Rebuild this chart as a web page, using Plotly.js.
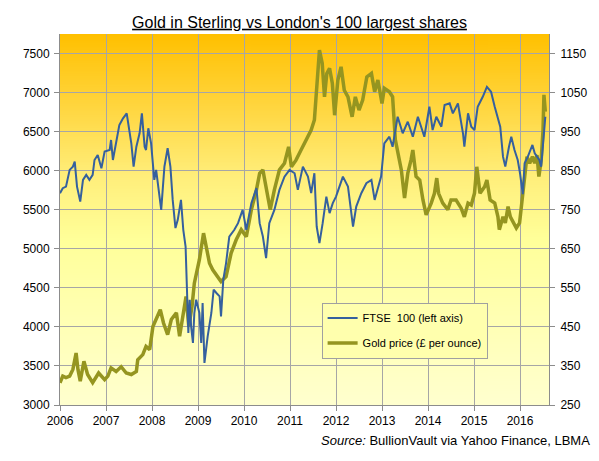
<!DOCTYPE html>
<html><head><meta charset="utf-8">
<script src="https://cdn.plot.ly/plotly-3.0.1.min.js"></script>
<style>html,body{margin:0;padding:0;background:#fff;} #chart{width:599px;height:461px;}</style>
</head><body><div id="chart"></div>
<script>
// FTSE 100 (left axis)
const ftseYears = [2006.00,2006.06,2006.13,2006.21,2006.28,2006.32,2006.37,2006.44,2006.50,2006.57,2006.64,2006.71,2006.75,2006.82,2006.90,2006.97,
2007.08,2007.11,2007.15,2007.22,2007.29,2007.37,2007.42,2007.45,2007.55,2007.60,2007.66,2007.73,2007.78,2007.84,2007.87,2007.92,2007.98,
2008.05,2008.09,2008.13,2008.20,2008.27,2008.34,2008.40,2008.45,2008.51,2008.56,2008.63,2008.68,2008.73,2008.76,2008.79,2008.82,2008.85,2008.89,2008.92,2008.96,
2009.03,2009.07,2009.10,2009.14,2009.21,2009.29,2009.34,2009.40,2009.47,2009.50,2009.55,2009.61,2009.68,2009.79,2009.87,2009.97,
2010.05,2010.16,2010.27,2010.34,2010.41,2010.48,2010.55,2010.66,2010.77,2010.88,2010.99,
2011.10,2011.17,2011.28,2011.39,2011.46,2011.53,2011.58,2011.64,2011.71,2011.79,2011.86,2011.93,
2012.00,2012.15,2012.26,2012.37,2012.44,2012.55,2012.66,2012.77,2012.84,2012.98,
2013.05,2013.16,2013.23,2013.34,2013.45,2013.56,2013.67,2013.78,2013.92,
2014.03,2014.10,2014.18,2014.29,2014.36,2014.47,2014.54,2014.65,2014.76,2014.79,2014.87,2014.94,
2015.01,2015.08,2015.19,2015.28,2015.37,2015.45,2015.52,2015.57,2015.63,2015.68,2015.76,2015.81,2015.88,2015.95,
2016.00,2016.04,2016.06,2016.10,2016.17,2016.27,2016.32,2016.37,2016.42,2016.46,2016.51,2016.55];
const ftseValues = [5712,5776,5796,6010,6052,6116,5796,5605,5882,5946,5882,5946,6137,6201,6031,6244,
6265,6393,6137,6351,6585,6670,6713,6734,6351,6052,6307,6479,6734,6307,6265,6543,6351,
5882,6010,5796,5498,6052,6287,6052,5626,5265,5371,5626,5243,5029,4390,3923,4348,4007,3795,4178,4348,
4178,3795,4306,3539,3879,4178,4476,4434,4390,4135,4604,4817,5157,5243,5328,5498,
5243,5584,5776,5328,5157,4881,5328,5498,5754,5924,6010,
5967,5754,6052,5924,5712,5967,5285,5073,5328,5668,5456,5584,
5668,5924,5796,5285,5541,5712,5840,5882,5626,5924,
6351,6435,6307,6691,6479,6627,6435,6691,6435,
6819,6521,6691,6563,6840,6862,6734,6862,6479,6307,6734,6563,
6521,6819,6946,7074,7010,6819,6649,6563,6180,6052,6307,6435,6265,6137,
5967,5818,5700,6095,6180,6329,6223,6180,6137,6052,6479,6691];

// Gold price, GBP per ounce (right axis)
const goldYears = [2006.00,2006.06,2006.13,2006.21,2006.28,2006.35,2006.39,2006.44,2006.52,2006.60,2006.71,2006.84,2006.97,
2007.04,2007.11,2007.22,2007.33,2007.44,2007.55,2007.66,2007.69,2007.80,2007.87,2007.95,
2008.02,2008.09,2008.18,2008.25,2008.34,2008.42,2008.53,2008.60,2008.68,2008.74,2008.80,2008.87,2008.92,
2009.03,2009.12,2009.18,2009.25,2009.32,2009.43,2009.50,2009.61,2009.72,2009.83,2009.94,
2010.05,2010.16,2010.27,2010.34,2010.41,2010.48,2010.57,2010.66,2010.77,2010.88,2010.97,
2011.03,2011.13,2011.24,2011.35,2011.46,2011.53,2011.58,2011.64,2011.70,2011.75,2011.80,2011.86,2011.92,2011.97,
2012.04,2012.11,2012.18,2012.26,2012.35,2012.42,2012.50,2012.58,2012.67,2012.77,2012.84,2012.91,
2013.00,2013.05,2013.16,2013.23,2013.29,2013.34,2013.42,2013.49,2013.56,2013.63,2013.67,2013.74,2013.82,2013.89,2013.96,
2014.07,2014.14,2014.19,2014.23,2014.32,2014.43,2014.50,2014.61,2014.72,2014.79,2014.87,2014.94,
2015.01,2015.06,2015.13,2015.23,2015.28,2015.35,2015.45,2015.52,2015.55,2015.63,2015.68,2015.74,2015.79,2015.86,2015.92,2015.99,
2016.04,2016.10,2016.15,2016.21,2016.27,2016.32,2016.37,2016.41,2016.46,2016.50,2016.52,2016.55];
const goldValues = [307,324,320,324,341,383,341,311,362,328,307,332,315,
324,345,336,348,332,328,336,366,379,400,392,
451,469,494,460,430,469,486,426,486,528,451,503,562,
622,690,656,613,596,579,566,579,639,673,699,
681,750,801,843,852,809,750,801,852,869,911,
860,877,903,929,954,980,1056,1159,1125,1039,1099,1112,1074,992,
1082,1116,1056,1039,988,1039,1005,1031,1090,1099,1052,1082,
1022,1061,1052,1039,929,903,852,780,843,877,903,835,826,775,737,
767,792,831,792,767,750,775,775,754,732,767,762,
792,860,792,809,826,775,767,732,699,732,716,758,732,716,703,716,
767,818,886,869,886,869,890,835,877,954,1044,1001];

const yearTicks = [2006,2007,2008,2009,2010,2011,2012,2013,2014,2015,2016];
const leftTicks = [3000,3500,4000,4500,5000,5500,6000,6500,7000,7500];
const rightTicks = [250,350,450,550,650,750,850,950,1050,1150];

function gradientImage(){
  const c = document.createElement('canvas');
  c.width = 4; c.height = 400;
  const g = c.getContext('2d');
  const lg = g.createLinearGradient(0,0,0,400);
  lg.addColorStop(0.00,'#FFC000');
  lg.addColorStop(0.18,'#FFD43A');
  lg.addColorStop(0.38,'#FFEE7A');
  lg.addColorStop(0.55,'#FFFF99');
  lg.addColorStop(1.00,'#FFFFCF');
  g.fillStyle = lg; g.fillRect(0,0,4,400);
  return c.toDataURL('image/png');
}

const FONT = 'Liberation Sans, Arial, sans-serif';
const gridCol = '#A6A6A6', lineCol = '#8C8C8C';

const traces = [
  {x: ftseYears, y: ftseValues, yaxis: 'y2', type: 'scatter', mode: 'lines',
   name: 'FTSE  100 (left axis)', legendgroup: 'a',
   line: {color: '#35609E', width: 2}, hoverinfo: 'skip'},
  {x: goldYears, y: goldValues, yaxis: 'y', type: 'scatter', mode: 'lines',
   name: 'Gold price (£ per ounce)', legendgroup: 'b',
   line: {color: '#959520', width: 3.5}, hoverinfo: 'skip'}
];

const layout = {
  width: 599, height: 461,
  margin: {l: 60, r: 50, t: 34, b: 56, pad: 0},
  paper_bgcolor: '#ffffff',
  plot_bgcolor: 'rgba(0,0,0,0)',
  font: {family: FONT, size: 12, color: '#000'},
  showlegend: true,
  title: {text: "<u>Gold in Sterling vs London's 100 largest shares</u>",
    font: {family: FONT, size: 16, color: '#000'},
    xref: 'container', x: 0.5, xanchor: 'center',
    yref: 'container', y: 0.952, yanchor: 'middle'},
  images: [{source: gradientImage(), xref: 'paper', yref: 'paper', x: 0, y: 1,
    sizex: 1, sizey: 1, sizing: 'stretch', xanchor: 'left', yanchor: 'top', layer: 'below'}],
  xaxis: {range: [2006, 2016.63], tickvals: yearTicks, ticktext: yearTicks.map(String),
    showgrid: true, gridcolor: gridCol, gridwidth: 1, zeroline: false,
    showline: true, linecolor: lineCol, linewidth: 1,
    ticks: 'outside', ticklen: 5, tickcolor: lineCol,
    tickfont: {family: FONT, size: 12, color: '#000'}, fixedrange: true},
  yaxis: {range: [250, 1200], side: 'right', tickvals: rightTicks, ticktext: rightTicks.map(String),
    showgrid: true, gridcolor: gridCol, gridwidth: 1, zeroline: false,
    showline: true, linecolor: lineCol, linewidth: 1,
    ticks: 'outside', ticklen: 5, tickcolor: lineCol, ticklabelstandoff: 3,
    tickfont: {family: FONT, size: 12, color: '#000'}, fixedrange: true},
  yaxis2: {range: [3000, 7750], overlaying: 'y', side: 'left', tickvals: leftTicks, ticktext: leftTicks.map(String),
    showgrid: false, zeroline: false,
    showline: true, linecolor: lineCol, linewidth: 1,
    ticks: 'outside', ticklen: 5, tickcolor: lineCol, ticklabelstandoff: 2,
    tickfont: {family: FONT, size: 12, color: '#000'}, fixedrange: true},
  legend: {x: 0.535, y: 0.276, xanchor: 'left', yanchor: 'top',
    bgcolor: '#FFFFAD', bordercolor: '#A0A0A0', borderwidth: 1,
    font: {family: FONT, size: 11, color: '#000'}, tracegroupgap: 6,
    traceorder: 'grouped'},
  annotations: [{text: '<i>Source:</i> BullionVault via Yahoo Finance, LBMA',
    xref: 'paper', yref: 'paper', x: 1.088, y: -0.097, xanchor: 'right', yanchor: 'middle',
    showarrow: false, font: {family: FONT, size: 13, color: '#000'}}]
};

Plotly.newPlot('chart', traces, layout, {staticPlot: true, displayModeBar: false});
</script>
</body></html>
